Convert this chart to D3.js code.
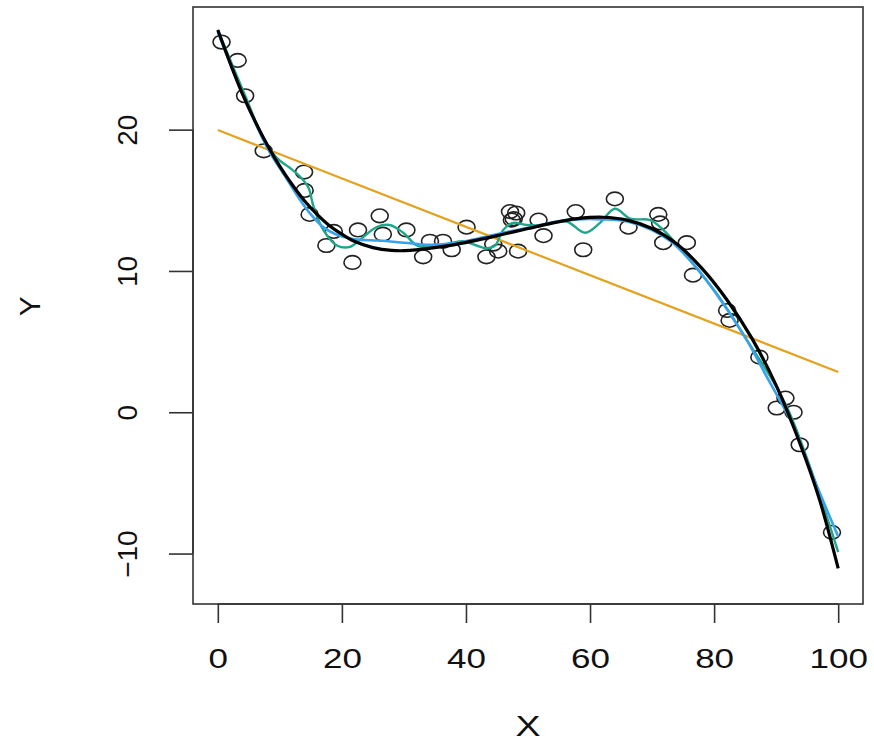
<!DOCTYPE html>
<html>
<head>
<meta charset="utf-8">
<script src="https://cdn.jsdelivr.net/npm/d3@7"></script>
<style>
    body { margin: 0; background: #fff; }
    text { font-family: "Liberation Sans", Arial, Helvetica, sans-serif; fill: #111; }
</style>
</head>
<body>
<svg id="plot" width="874" height="744"></svg>
<script>
// observed points
var pointsX = [0.6, 3.2, 4.4, 7.4, 13.9, 14.0, 14.8, 17.5, 18.7, 21.7, 22.6, 26.1, 26.6, 30.4,
    33.1, 34.2, 36.3, 37.7, 40.1, 43.3, 44.4, 45.2, 48.4, 47.1, 47.7, 48.1, 47.4, 51.7, 52.5,
    57.7, 58.9, 64.0, 66.2, 71.0, 71.3, 71.8, 75.6, 76.6, 82.1, 82.5, 87.3, 91.5, 90.1, 92.8,
    93.8, 99.0];
var pointsY = [26.2, 24.9, 22.4, 18.5, 17.0, 15.7, 14.0, 11.8, 12.8, 10.6, 12.9, 13.9, 12.6, 12.9,
    11.0, 12.1, 12.1, 11.5, 13.1, 11.0, 11.9, 11.4, 11.4, 14.2, 13.7, 14.1, 13.6, 13.6, 12.5,
    14.2, 11.5, 15.1, 13.1, 14.0, 13.4, 12.0, 12.0, 9.7, 7.2, 6.5, 3.9, 1.0, 0.3, 0.0,
    -2.3, -8.5];

// straight line fit (orange)
var linearX = [0, 100];
var linearY = [19.97, 2.85];

// wiggly fit (green)
var greenX = [0, 4.6, 7.1, 9.5, 11.6, 13.2, 14.6, 15.4, 17.0, 19.2, 21.3, 22.9, 25.6, 27.7, 29.9,
    32.1, 34.2, 37.4, 39.6, 41.7, 43.3, 44.7, 46.0, 47.6, 49.8, 52.5, 56.2, 59.2, 61.6, 64.0,
    66.5, 69.7, 71.8, 76.1, 80.4, 85.3, 91.7, 100];
var greenY = [27.05, 22.2, 19.6, 18.0, 17.3, 16.7, 15.9, 14.6, 12.9, 11.8, 11.7, 12.2, 13.1, 13.25, 12.7,
    11.8, 11.7, 11.95, 12.1, 11.8, 11.6, 11.8, 12.9, 13.4, 13.25, 13.25, 13.5, 12.7, 13.4, 14.4,
    13.7, 13.6, 12.9, 10.8, 8.4, 5.1, 0.4, -9.9];

// smooth fit (blue)
var blueX = [0, 4, 8, 11, 13, 15, 17, 19, 22, 26, 30, 34, 38, 42, 46, 50, 54, 58, 62, 66,
    70, 73, 76, 80, 85, 88.5, 92.8, 96, 100];
var blueY = [26.9, 22.5, 18.7, 16.6, 15.2, 14.0, 13.1, 12.6, 12.25, 12.15, 12.0, 11.85, 11.95, 12.3, 12.7, 13.05, 13.45, 13.65, 13.65, 13.5,
    12.9, 12.1, 10.8, 8.6, 5.3, 2.5, -1.0, -4.6, -8.8];

// true curve (black)
var blackX = [0, 2, 4, 6, 8, 10, 12, 14, 16, 18, 20, 22, 25, 28, 31, 34, 38, 42, 46, 50,
    54, 58, 62, 66, 70, 74, 78, 82, 86, 90, 94, 97, 100];
var blackY = [27.05, 24.7, 22.5, 20.6, 18.9, 17.4, 16.1, 14.95, 14.0, 13.2, 12.6, 12.1, 11.65, 11.45, 11.45, 11.6, 11.85, 12.2, 12.6, 13.0,
    13.4, 13.7, 13.8, 13.6, 13.0, 11.9, 10.2, 8.0, 5.3, 1.9, -2.4, -6.2, -11.05];

// tick labels
var xTicks = [0, 20, 40, 60, 80, 100];
var yTicks = [-10, 0, 10, 20];

var svg = d3.select("#plot");

var x = d3.scaleLinear().domain([-4, 104]).range([193, 863]);
var y = d3.scaleLinear().domain([-13.57, 28.68]).range([604, 7]);

/**
 * makes a list of {x, y} from two arrays
 */
function pairs(xs, ys) {
    return xs.map(function(v, i) { return {x: v, y: ys[i]}; });
}

// the points (drawn a bit wide, like the picture)
svg.append("g").selectAll("ellipse")
    .data(pairs(pointsX, pointsY))
    .enter().append("ellipse")
    .attr("cx", function(d) { return x(d.x); })
    .attr("cy", function(d) { return y(d.y); })
    .attr("rx", 8.5)
    .attr("ry", 6.8)
    .attr("fill", "none")
    .attr("stroke", "#222")
    .attr("stroke-width", 1.6);

var straight = d3.line()
    .x(function(d) { return x(d.x); })
    .y(function(d) { return y(d.y); });

var smooth = d3.line()
    .curve(d3.curveCatmullRom.alpha(0.5))
    .x(function(d) { return x(d.x); })
    .y(function(d) { return y(d.y); });

svg.append("path")
    .attr("d", straight(pairs(linearX, linearY)))
    .attr("fill", "none").attr("stroke", "#E3A21F").attr("stroke-width", 2.2);

svg.append("path")
    .attr("d", smooth(pairs(greenX, greenY)))
    .attr("fill", "none").attr("stroke", "#1FA68A").attr("stroke-width", 2.4);

svg.append("path")
    .attr("d", smooth(pairs(blueX, blueY)))
    .attr("fill", "none").attr("stroke", "#38A2EA").attr("stroke-width", 2.6);

svg.append("path")
    .attr("d", smooth(pairs(blackX, blackY)))
    .attr("fill", "none").attr("stroke", "#000").attr("stroke-width", 3.2);

// box around the plot region
svg.append("rect")
    .attr("x", x(-4)).attr("y", y(28.68))
    .attr("width", x(104) - x(-4)).attr("height", y(-13.57) - y(28.68))
    .attr("fill", "none").attr("stroke", "#333").attr("stroke-width", 1.6);

// axes, R style
var xAxis = svg.append("g")
    .attr("transform", "translate(0," + y(-13.57) + ")")
    .call(d3.axisBottom(x).tickValues(xTicks).tickSize(19).tickPadding(25).tickFormat(d3.format("d")));

var yAxis = svg.append("g")
    .attr("transform", "translate(" + x(-4) + ",0)")
    .call(d3.axisLeft(y).tickValues(yTicks).tickSize(24).tickPadding(28).tickFormat(d3.format("d")));

[xAxis, yAxis].forEach(function(a) {
    a.select(".domain").attr("stroke", "#333").attr("stroke-width", 1.6);
    a.selectAll(".tick line").attr("stroke", "#333").attr("stroke-width", 1.6);
    a.selectAll("text").style("font-size", "28px").attr("fill", "#111");
});

xAxis.select(".domain").attr("d", "M" + x(0) + ",0H" + x(100));
yAxis.select(".domain").attr("d", "M0," + y(-10) + "V" + y(20));

xAxis.selectAll(".tick text")
    .attr("dy", "0.71em")
    .attr("transform", "scale(1.25,1)")
    .attr("x", 0);

yAxis.selectAll(".tick text")
    .attr("text-anchor", "middle")
    .attr("dy", 0)
    .attr("x", 0)
    .attr("transform", "translate(-66,0) rotate(-90) translate(0,10)");

// axis titles
svg.append("text")
    .attr("transform", "translate(" + x(50) + ",736) scale(1.25,1)")
    .attr("text-anchor", "middle")
    .style("font-size", "30px")
    .text("X");

svg.append("text")
    .attr("transform", "translate(40," + y(7.5) + ") rotate(-90)")
    .attr("text-anchor", "middle")
    .style("font-size", "30px")
    .text("Y");
</script>
</body>
</html>
